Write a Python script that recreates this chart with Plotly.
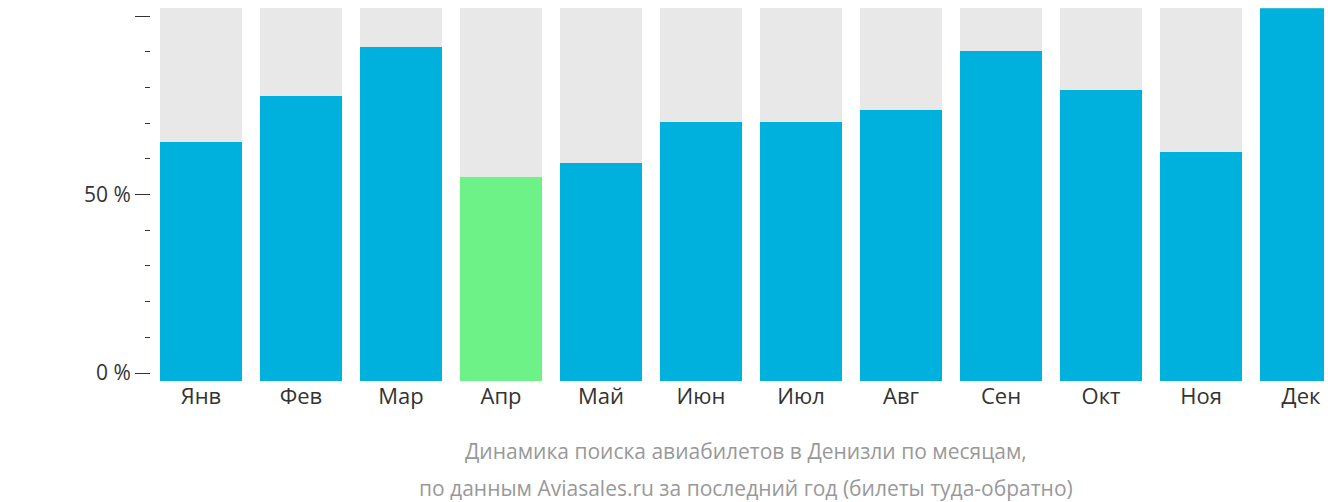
import plotly.graph_objects as go

months = ["Янв", "Фев", "Мар", "Апр", "Май", "Июн", "Июл", "Авг", "Сен", "Окт", "Ноя", "Дек"]
values = [64.7, 77.6, 91.3, 54.9, 58.8, 70.3, 70.3, 73.7, 90.2, 79.3, 61.9, 102.2]
highlight = "Апр"
caption = ["Динамика поиска авиабилетов в Денизли по месяцам,",
           "по данным Aviasales.ru за последний год (билеты туда-обратно)"]

y_min, y_max = -2.24, 102.24
colors = ["#6cf286" if m == highlight else "#00b0dd" for m in months]

fig = go.Figure()
fig.add_bar(x=months, y=[y_max - y_min] * len(months), base=y_min,
            marker=dict(color="#e8e8e8", line_width=0), hoverinfo="skip")
fig.add_bar(x=months, y=[v - y_min for v in values], base=y_min,
            marker=dict(color=colors, line_width=0))

fig.update_layout(
    width=1332, height=502, barmode="overlay", bargap=0.18, showlegend=False,
    plot_bgcolor="white", paper_bgcolor="white",
    margin=dict(l=143, r=0, t=0, b=129),
    font=dict(family="Open Sans", size=21, color="#333"),
    xaxis=dict(range=[-0.5, 11.39], showline=False, ticks="", tickfont=dict(size=22),
               automargin=False),
    yaxis=dict(range=[y_min, y_max], tickvals=[0, 50, 100], ticktext=["0 %", "50 %", "100 %"],
               showgrid=False, zeroline=False, ticks="outside", ticklen=15, tickcolor="#333",
               automargin=False,
               minor=dict(dtick=10, tick0=0, ticks="outside", ticklen=5, tickcolor="#333")),
    annotations=[
        dict(text=caption[0], x=0.5, y=-0.188, xref="paper", yref="paper", yanchor="middle",
             showarrow=False, font=dict(size=21, color="#999")),
        dict(text=caption[1], x=0.5, y=-0.287, xref="paper", yref="paper", yanchor="middle",
             showarrow=False, font=dict(size=21, color="#999")),
    ],
)
fig.write_html("out.html")
